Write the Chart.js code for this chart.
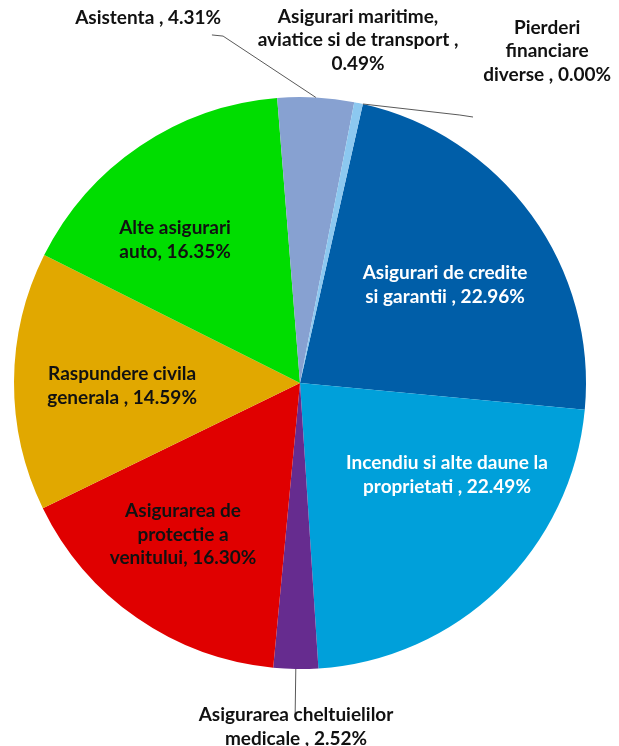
<!DOCTYPE html>
<html>
<head>
<meta charset="utf-8">
<script src="https://cdn.jsdelivr.net/npm/chart.js@4.4.0/dist/chart.umd.min.js"></script>
<style>
  body { margin: 0; background: #fff; }
  #wrap { width: 619px; height: 746px; }
</style>
</head>
<body>
<div id="wrap"><canvas id="pieChart"></canvas></div>
<script>
// data, clockwise from the first slice
const categories = [
  'Asigurari de credite si garantii',
  'Incendiu si alte daune la proprietati',
  'Asigurarea cheltuielilor medicale',
  'Asigurarea de protectie a venitului',
  'Raspundere civila generala',
  'Alte asigurari auto',
  'Asistenta',
  'Asigurari maritime, aviatice si de transport',
  'Pierderi financiare diverse'
];
const shares = [22.96, 22.49, 2.52, 16.30, 14.59, 16.35, 4.31, 0.49, 0.00];

// how each label is broken into lines (text only)
const labelLines = [
  ['Asigurari de credite', 'si garantii , 22.96%'],
  ['Incendiu si alte daune la', 'proprietati , 22.49%'],
  ['Asigurarea cheltuielilor', 'medicale , 2.52%'],
  ['Asigurarea de', 'protectie a', 'venitului, 16.30%'],
  ['Raspundere civila', 'generala , 14.59%'],
  ['Alte asigurari', 'auto, 16.35%'],
  ['Asistenta , 4.31%'],
  ['Asigurari maritime,', 'aviatice si de transport ,', '0.49%'],
  ['Pierderi', 'financiare', 'diverse , 0.00%']
];

const colors = ['#005EA8', '#00A0DA', '#662C8F', '#E00000', '#E1A800', '#00DD00', '#87A1D1', '#8CC8F0', '#1F5FA0'];
const textColors = ['#fff', '#fff', '#111', '#111', '#111', '#111', '#111', '#111', '#111'];

// label centres as fractions of the radius from the pie centre
const labelOffset = [
  [0.507, -0.343], [0.514, 0.322], [-0.014, 1.203], [-0.409, 0.531], [-0.622, 0.010],
  [-0.437, -0.500], [-0.531, -1.276], [0.203, -1.199], [0.864, -1.161]
];
// leader lines: points (fractions of radius) after the arc edge
const leaders = {
  2: [[-0.017, 1.161]],
  6: [[-0.269, -1.213], [-0.308, -1.217]],
  8: [[0.559, -0.937], [0.605, -0.930]]
};

const labelPlugin = {
  id: 'pieLabels',
  afterDatasetsDraw(chart) {
    const ctx = chart.ctx;
    const meta = chart.getDatasetMeta(0);
    ctx.save();
    ctx.font = 'bold 19px Lato';
    ctx.textAlign = 'center';
    ctx.textBaseline = 'middle';
    meta.data.forEach((arc, i) => {
      const cx = arc.x, cy = arc.y, r = arc.outerRadius;
      if (leaders[i]) {
        const mid = (arc.startAngle + arc.endAngle) / 2;
        ctx.beginPath();
        ctx.strokeStyle = '#595959';
        ctx.lineWidth = 1;
        ctx.moveTo(cx + Math.cos(mid) * r, cy + Math.sin(mid) * r);
        leaders[i].forEach(p => ctx.lineTo(cx + p[0] * r, cy + p[1] * r));
        ctx.stroke();
      }
      const lines = labelLines[i];
      const lh = 23.5;
      const lx = cx + labelOffset[i][0] * r;
      const ly = cy + labelOffset[i][1] * r - (lines.length - 1) * lh / 2;
      ctx.fillStyle = textColors[i];
      lines.forEach((t, k) => ctx.fillText(t, lx, ly + k * lh));
    });
    ctx.restore();
  }
};

new Chart(document.getElementById('pieChart'), {
  type: 'pie',
  data: {
    labels: categories,
    datasets: [{
      data: shares,
      backgroundColor: colors,
      borderWidth: 0
    }]
  },
  options: {
    responsive: true,
    maintainAspectRatio: false,
    animation: false,
    rotation: 12.7,
    layout: { padding: { left: 14, right: 33, top: 97, bottom: 77 } },
    plugins: {
      legend: { display: false },
      tooltip: { enabled: false }
    }
  },
  plugins: [labelPlugin]
});
</script>
</body>
</html>
